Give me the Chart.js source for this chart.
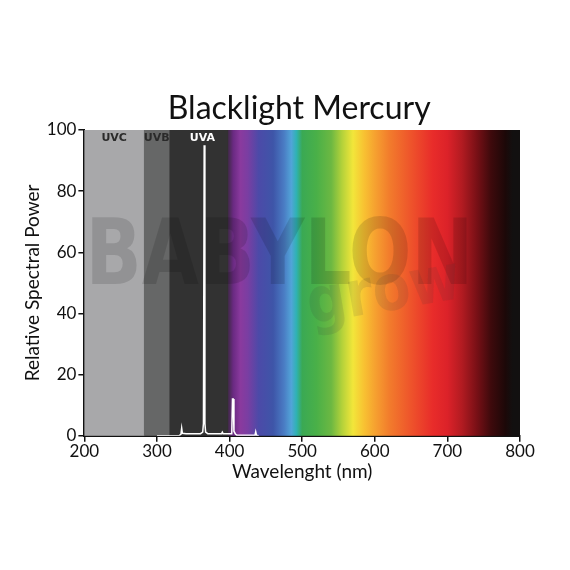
<!DOCTYPE html>
<html><head><meta charset="utf-8">
<script src="https://cdn.jsdelivr.net/npm/chart.js@4"></script>
<style>html,body{margin:0;padding:0;background:#fff;}canvas{display:block;}</style>
</head><body>
<canvas id="c" width="570" height="570"></canvas>
<script>
// ---- data ----
const chartTitle = 'Blacklight Mercury';
const wavelengths = [300,330,333,334,335,340,360,363,364,365,366,367,370,389,390,391,403,404,405,406,408,410,435,436,437,440];
const power       = [0,  0,  0.5,2.5,0.8,0.7,0.7,1.2,4,  95, 4,  1.2,0.7,0.7,1.2,0.7,0.7,12, 12, 1.5,0.6,0.2,0.2,1.3,0.2,0];
const xTicks = [200,300,400,500,600,700,800];
const yTicks = [0,20,40,60,80,100];
const bandNames  = ['UVC','UVB','UVA'];
const bandStart  = [200,282,317];
const bandEnd    = [282,317,397];
const bandColors = ['#a8a8aa','#666767','#323232'];
const spectrumNm     = [385,397,405,415,425,440,460,475,485,492,500,520,540,555,570,585,600,620,650,680,700,720,740,760,780,790,800];
const spectrumColors = ['#323232','#3a2a40','#6a2a82','#8a3a9e','#7a3ea2','#4c4aa8','#3e55a8','#4a7cc4','#52a4d8','#2fb2b4','#3aa954','#4ab048','#6cb842','#b4d23a','#f2e63a','#f8c232','#f6a230','#f27c2c','#ee532b','#e82c2a','#dc2229','#b21b21','#7a1016','#3e0a0c','#1c0808','#121010','#121010'];
const watermarkText = ['BABYLON','grow'];

const bgPlugin = {
  id: 'bg',
  beforeDatasetsDraw(chart) {
    const {ctx, chartArea: a, scales: {x, y}} = chart;
    ctx.save();
    const x0 = x.getPixelForValue(spectrumNm[0]);
    const x1 = x.getPixelForValue(spectrumNm[spectrumNm.length - 1]);
    const g = ctx.createLinearGradient(x0, 0, x1, 0);
    spectrumNm.forEach((nm, i) => g.addColorStop((nm - spectrumNm[0]) / (spectrumNm[spectrumNm.length-1] - spectrumNm[0]), spectrumColors[i]));
    ctx.fillStyle = g;
    ctx.fillRect(x0, a.top, x1 - x0, a.bottom - a.top);
    bandNames.forEach((n, i) => {
      const l = x.getPixelForValue(bandStart[i]);
      const r = x.getPixelForValue(bandEnd[i]);
      ctx.fillStyle = bandColors[i];
      ctx.fillRect(l, a.top, r - l + 0.5, a.bottom - a.top);
    });
    ctx.font = 'bold 11px "DejaVu Sans"';
    ctx.textAlign = 'center';
    ctx.textBaseline = 'middle';
    bandNames.forEach((n, i) => {
      const cx = x.getPixelForValue((bandStart[i] + bandEnd[i]) / 2) + (i === 2 ? 4 : 0);
      ctx.fillStyle = i === 2 ? '#ffffff' : '#2a2a2a';
      ctx.fillText(n, cx, a.top + 8);
    });
    // watermark
    ctx.save();
    ctx.beginPath();
    ctx.rect(a.left, a.top, a.right - a.left, a.bottom - a.top);
    ctx.clip();
    ctx.fillStyle = 'rgba(0,0,0,0.13)';
    ctx.font = '900 90px "DejaVu Sans"';
    ctx.textAlign = 'left';
    ctx.textBaseline = 'alphabetic';
    const w = ctx.measureText(watermarkText[0]).width;
    ctx.save();
    ctx.translate(a.left + 1, a.top + 154);
    ctx.scale(388 / w, 1);
    ctx.fillText(watermarkText[0], 0, 0);
    ctx.restore();
    ctx.save();
    ctx.font = 'bold 64px "DejaVu Sans"';
    ctx.fillStyle = 'rgba(60,60,60,0.12)';
    const w2 = ctx.measureText(watermarkText[1]).width;
    ctx.translate(a.left + 226, a.top + 194);
    ctx.rotate(-0.17);
    ctx.scale(155 / w2, 1);
    ctx.fillText(watermarkText[1], 0, 0);
    ctx.restore();
    ctx.restore();
    ctx.restore();
  },
  afterDraw(chart) {
    const {ctx, chartArea: a} = chart;
    ctx.save();
    ctx.fillStyle = '#111';
    ctx.font = '32px Lato';
    ctx.textAlign = 'center';
    ctx.textBaseline = 'alphabetic';
    ctx.fillText(chartTitle, (a.left + a.right) / 2 - 3, a.top - 11);
    ctx.restore();
  }
};

new Chart(document.getElementById('c'), {
  type: 'line',
  data: {
    datasets: [{
      data: wavelengths.map((w, i) => ({x: w, y: power[i]})),
      borderColor: '#ffffff',
      borderWidth: 1.5,
      pointRadius: 0,
      tension: 0,
      fill: false
    }]
  },
  options: {
    responsive: false,
    animation: false,
    layout: {padding: {left: 17, right: 50, top: 130, bottom: 87}},
    plugins: {
      legend: {display: false},
      tooltip: {enabled: false},
      title: {display: false}
    },
    scales: {
      x: {
        type: 'linear', min: 200, max: 800,
        afterBuildTicks: s => { s.ticks = xTicks.map(v => ({value: v})); },
        ticks: {color: '#111', font: {family: 'Lato', size: 17}, padding: 0, maxRotation: 0},
        grid: {display: true, drawOnChartArea: false, drawTicks: true, tickLength: 6, color: '#111', lineWidth: 1.5},
        border: {display: true, color: '#111', width: 2},
        title: {display: true, text: 'Wavelenght (nm)', color: '#111', font: {family: 'Lato', size: 19}, padding: {top: -2, bottom: 0}}
      },
      y: {
        min: 0, max: 100,
        afterBuildTicks: s => { s.ticks = yTicks.map(v => ({value: v})); },
        ticks: {color: '#111', font: {family: 'Lato', size: 17}, padding: 2},
        grid: {display: true, drawOnChartArea: false, drawTicks: true, tickLength: 6, color: '#111', lineWidth: 1.5},
        border: {display: true, color: '#111', width: 2},
        title: {display: true, text: 'Relative Spectral Power', color: '#111', font: {family: 'Lato', size: 19}, padding: {bottom: 1}}
      }
    }
  },
  plugins: [bgPlugin]
});
</script>
</body></html>
